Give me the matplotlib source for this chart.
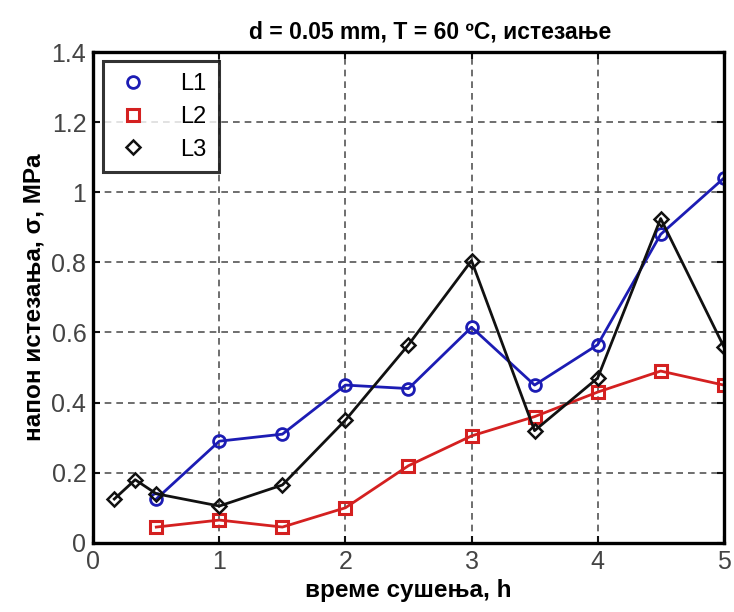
import matplotlib
matplotlib.use("Agg")
import matplotlib.pyplot as plt

plt.rcParams['font.family'] = ['Liberation Sans', 'DejaVu Sans']

x_l1 = [0.5, 1, 1.5, 2, 2.5, 3, 3.5, 4, 4.5, 5]
y_l1 = [0.125, 0.29, 0.31, 0.45, 0.44, 0.615, 0.45, 0.565, 0.88, 1.04]
x_l2 = [0.5, 1, 1.5, 2, 2.5, 3, 3.5, 4, 4.5, 5]
y_l2 = [0.045, 0.065, 0.045, 0.10, 0.22, 0.305, 0.36, 0.43, 0.49, 0.45]
x_l3 = [0.167, 0.333, 0.5, 1, 1.5, 2, 2.5, 3, 3.5, 4, 4.5, 5]
y_l3 = [0.125, 0.18, 0.14, 0.105, 0.165, 0.35, 0.565, 0.805, 0.32, 0.47, 0.925, 0.56]

fig = plt.figure(figsize=(7.34, 6.12), dpi=100)
ax = fig.add_axes([0.127, 0.113, 0.859, 0.802])

ax.plot(x_l1, y_l1, color='#1c1cb4', lw=2.0, marker='o', ms=8.5, mfc='none', mew=2.0, label='L1')
ax.plot(x_l2, y_l2, color='#d42020', lw=2.0, marker='s', ms=8.5, mfc='none', mew=2.2, label='L2')
ax.plot(x_l3, y_l3, color='#111111', lw=2.0, marker='D', ms=7, mfc='none', mew=1.8, label='L3')

ax.set_xlim(0, 5)
ax.set_ylim(0, 1.4)
ax.set_xticks([0, 1, 2, 3, 4, 5])
ax.set_xticklabels(['0', '1', '2', '3', '4', '5'])
ax.set_yticks([0, 0.2, 0.4, 0.6, 0.8, 1.0, 1.2, 1.4])
ax.set_yticklabels(['0', '0.2', '0.4', '0.6', '0.8', '1', '1.2', '1.4'])
ax.grid(True, color='#555555', ls=(0, (4, 3)), lw=1.2)
for s in ax.spines.values():
    s.set_linewidth(2.4)
ax.tick_params(direction='in', length=5, width=1.5, labelsize=18, color='#111111',
               labelcolor='#444444', pad=5, top=True, right=True)

ax.set_title('d = 0.05 mm, T = 60 ºC, истезање', fontsize=16.5, fontweight='bold',
             pad=10, x=0.535)
ax.set_xlabel('време сушења, h', fontsize=17.5, fontweight='bold', labelpad=4)
ax.set_ylabel('напон истезања, σ, MPa', fontsize=17.5, fontweight='bold', labelpad=4)

leg = ax.legend(loc='upper left', fontsize=17, frameon=True, fancybox=False,
                edgecolor='black', handlelength=1.6, handletextpad=1.2,
                borderpad=0.5, labelspacing=0.45, borderaxespad=0.4)
leg.get_frame().set_linewidth(2.2)
for h in leg.get_lines():
    h.set_linestyle('none')

fig.savefig('out.png', dpi=100)
